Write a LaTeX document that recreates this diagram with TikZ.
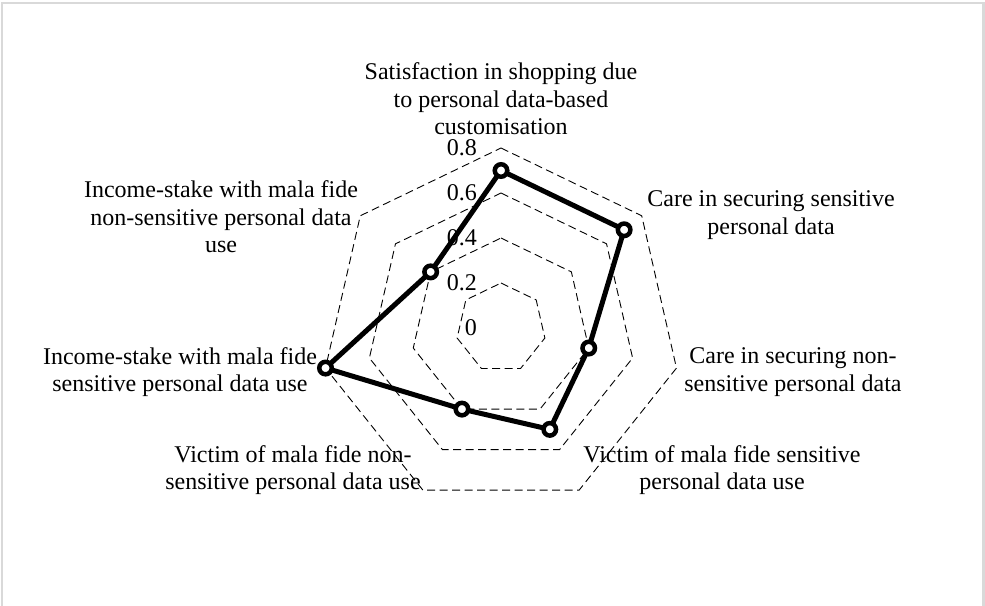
\documentclass[tikz,border=0pt]{standalone}
\usepackage{fontspec}
\setmainfont{Liberation Serif}
\begin{document}
\begin{tikzpicture}[x=1pt,y=-1pt,
  ring/.style={draw=black, dash pattern=on 8pt off 4.5pt, line width=0.9pt},
  series/.style={draw=black, line width=5pt, line join=round},
  marker/.style={circle, draw=black, fill=white, line width=4.5pt, minimum size=12.5pt, inner sep=0pt},
  lab/.style={font=\fontsize{24}{27.5}\selectfont, align=center, inner sep=0pt},
  tick/.style={font=\fontsize{24}{27.5}\selectfont, anchor=east, inner sep=0pt},
  frame/.style={draw=black!15, line width=2.5pt}]
\useasboundingbox (0,0) rectangle (985,605);
\draw[frame] (2.2,620) -- (2.2,3.2) -- (983.3,3.2) -- (983.3,620);
\begin{scope}[shift={(501,328)}]
  \coordinate (c) at (0,0);
  \foreach \v in {1,2,3,4}{
    \draw[ring] (-90:\v*45) \foreach \i in {1,...,6}{ -- ({\i*360/7-90}:\v*45) } -- cycle;
  }
  \foreach \i/\v in {0/0.7,1/0.7,2/0.4,3/0.5,4/0.4,5/0.8,6/0.4}{
    \coordinate (p\i) at ({\i*360/7-90}:{\v*225});
  }
  \draw[series] (p0) -- (p1) -- (p2) -- (p3) -- (p4) -- (p5) -- (p6) -- cycle;
  \foreach \i in {0,...,6}{ \node[marker] (m\i) at (p\i) {}; }
\end{scope}
\node[tick] (t8) at (477,148) {0.8};
\node[tick] (t6) at (477,193) {0.6};
\node[tick] (t4) at (477,238) {0.4};
\node[tick] (t2) at (477,283) {0.2};
\node[tick] (t0) at (477,328) {0};
\node[lab] (l0) at (501,99) {Satisfaction in shopping due\\to personal data-based\\customisation};
\node[lab] (l1) at (771,215) {Care in securing sensitive\\personal data};
\node[lab] (l2) at (793,372) {Care in securing non-\\sensitive personal data};
\node[lab] (l3) at (722,470) {Victim of mala fide sensitive\\personal data use};
\node[lab] (l4) at (293,470) {Victim of mala fide non-\\sensitive personal data use};
\node[lab] (l5) at (180,372) {Income-stake with mala fide\\sensitive personal data use};
\node[lab] (l6) at (221,217) {Income-stake with mala fide\\non-sensitive personal data\\use};
\end{tikzpicture}
\end{document}
